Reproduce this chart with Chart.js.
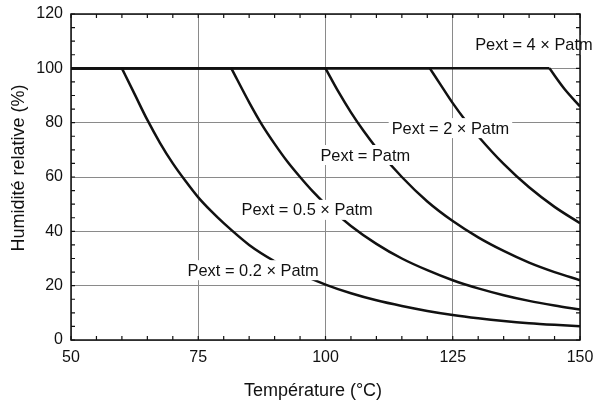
<!DOCTYPE html>
<html>
<head>
<meta charset="utf-8">
<script src="https://cdn.jsdelivr.net/npm/chart.js@4/dist/chart.umd.min.js"></script>
<style>
  html, body { margin: 0; padding: 0; background: #fff; }
  #wrap { width: 596px; height: 403px; }
</style>
</head>
<body>
<div id="wrap"><canvas id="c" width="596" height="403"></canvas></div>
<script>
// ---- Data ----
const xTitle = "Température (°C)";
const yTitle = "Humidité relative (%)";

const xTicks = [50, 75, 100, 125, 150];
const yTicks = [0, 20, 40, 60, 80, 100, 120];

const seriesNames = ["Pext = 0.2 × Patm", "Pext = 0.5 × Patm", "Pext = Patm", "Pext = 2 × Patm", "Pext = 4 × Patm"];

const temp02 = [50, 60, 62.5, 65, 67.5, 70, 72.5, 75, 77.5, 80, 85, 90, 95, 100, 105, 110, 115, 120, 125, 130, 135, 140, 145, 150];
const rh02   = [100, 100, 90.5, 81, 72.5, 65, 58.5, 52.5, 47.5, 43, 35, 29, 24.3, 20.4, 17.2, 14.6, 12.5, 10.7, 9.2, 8, 7, 6.2, 5.6, 5.1];

const temp05 = [50, 81.5, 85, 87.5, 90, 92.5, 95, 97.5, 100, 105, 110, 115, 120, 125, 130, 135, 140, 145, 150];
const rh05   = [100, 100, 87.5, 79.3, 72.2, 65.7, 60, 54.7, 50, 42, 35.4, 30, 25.7, 22, 19, 16.5, 14.4, 12.7, 11.2];

const temp1 = [50, 100, 102.5, 105, 107.5, 110, 115, 120, 125, 130, 135, 140, 145, 150];
const rh1   = [100, 100, 91.5, 83.8, 76.9, 70.7, 60, 51, 43.8, 37.8, 32.8, 28.5, 25, 22];

const temp2 = [50, 120.5, 122.5, 125, 127.5, 130, 135, 140, 145, 150];
const rh2   = [100, 100, 94.3, 87.2, 80.8, 75, 64.8, 56.2, 49, 43];

const temp4 = [50, 144, 147, 150];
const rh4   = [100, 100, 92.3, 86];

// label anchors (data coords: left edge x, vertical centre y)
const labelX = [72.9, 83.5, 99.0, 113.0, 129.4];
const labelY = [25.7, 47.9, 68.1, 78.0, 108.6];

// ---- Build ----
const temps = [temp02, temp05, temp1, temp2, temp4];
const rhs = [rh02, rh05, rh1, rh2, rh4];
const lineStyle = {
  borderColor: '#111',
  borderWidth: 2.5,
  pointRadius: 0,
  fill: false,
  cubicInterpolationMode: 'monotone',
  borderCapStyle: 'butt',
  borderJoinStyle: 'miter'
};
const datasets = [];
temps.forEach((t, i) => {
  const pts = t.map((x, j) => ({ x: x, y: rhs[i][j] }));
  let k = 0;
  while (k + 1 < pts.length && pts[k + 1].y >= 100) k++;
  // saturated plateau (100 %)
  datasets.push(Object.assign({ label: seriesNames[i] + ' (sat)', data: pts.slice(0, k + 1) }, lineStyle));
  // drying branch
  datasets.push(Object.assign({ label: seriesNames[i], data: pts.slice(k) }, lineStyle));
});

const FONT = '"Liberation Sans", Arial, Helvetica, sans-serif';

const decor = {
  id: 'decor',
  afterDatasetsDraw(chart) {
    const ctx = chart.ctx;
    const a = chart.chartArea;
    const xs = chart.scales.x, ys = chart.scales.y;
    ctx.save();
    // text labels with white boxes
    ctx.font = '16.4px ' + FONT;
    ctx.textBaseline = 'middle';
    ctx.textAlign = 'left';
    seriesNames.forEach((name, i) => {
      const px = xs.getPixelForValue(labelX[i]);
      const py = ys.getPixelForValue(labelY[i]);
      const w = ctx.measureText(name).width;
      ctx.fillStyle = '#fff';
      ctx.fillRect(px - 3, py - 10, w + 6, 20);
      ctx.fillStyle = '#111';
      ctx.fillText(name, px, py + 1);
    });
    // border box
    ctx.strokeStyle = '#111';
    ctx.lineWidth = 1.5;
    ctx.strokeRect(a.left, a.top, a.right - a.left, a.bottom - a.top);
    // inward minor ticks
    ctx.lineWidth = 1.2;
    ctx.beginPath();
    for (let v = 50; v <= 150; v += 5) {
      const p = xs.getPixelForValue(v);
      ctx.moveTo(p, a.bottom); ctx.lineTo(p, a.bottom - 4);
      ctx.moveTo(p, a.top); ctx.lineTo(p, a.top + 4);
    }
    for (let v = 0; v <= 120; v += 5) {
      const p = ys.getPixelForValue(v);
      ctx.moveTo(a.left, p); ctx.lineTo(a.left + 4, p);
      ctx.moveTo(a.right, p); ctx.lineTo(a.right - 4, p);
    }
    ctx.stroke();
    // axis titles
    ctx.fillStyle = '#111';
    ctx.font = '18px ' + FONT;
    ctx.textAlign = 'center';
    ctx.textBaseline = 'middle';
    ctx.fillText(xTitle, 313, 391);
    ctx.translate(19, 168);
    ctx.rotate(-Math.PI / 2);
    ctx.fillText(yTitle, 0, 0);
    ctx.restore();
  }
};

new Chart(document.getElementById('c'), {
  type: 'line',
  data: { datasets: datasets },
  options: {
    responsive: false,
    animation: false,
    devicePixelRatio: 1,
    layout: { padding: { top: 14, right: 16, left: 0, bottom: 0 } },
    plugins: { legend: { display: false }, tooltip: { enabled: false } },
    scales: {
      x: {
        type: 'linear', min: 50, max: 150,
        afterBuildTicks: s => { s.ticks = xTicks.map(v => ({ value: v })); },
        afterFit: s => { s.height = 63; s.paddingLeft = 0; s.paddingRight = 0; },
        ticks: { font: { size: 16, family: FONT }, color: '#111', padding: 8, maxRotation: 0 },
        grid: { color: '#8a8a8a', lineWidth: 1, drawTicks: false },
        border: { display: false }
      },
      y: {
        type: 'linear', min: 0, max: 120,
        afterBuildTicks: s => { s.ticks = yTicks.map(v => ({ value: v })); },
        afterFit: s => { s.width = 71; s.paddingTop = 0; s.paddingBottom = 0; },
        ticks: { font: { size: 16, family: FONT }, color: '#111', padding: 8 },
        grid: { color: '#8a8a8a', lineWidth: 1, drawTicks: false },
        border: { display: false }
      }
    }
  },
  plugins: [decor]
});
</script>
</body>
</html>
